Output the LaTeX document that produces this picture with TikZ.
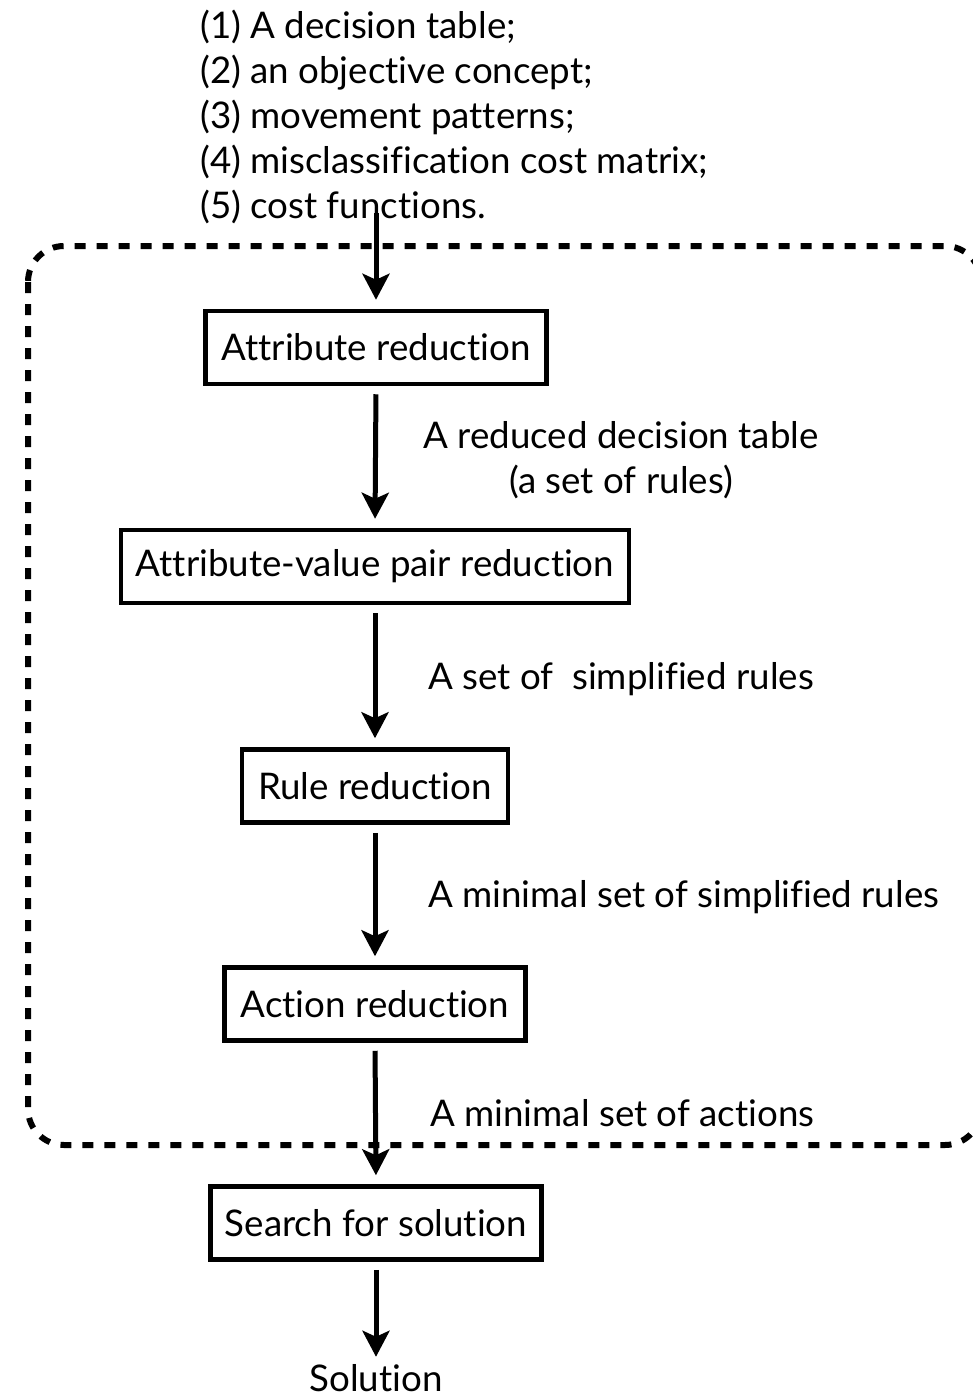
\documentclass[tikz,border=0pt]{standalone}
\usepackage{fontspec}
\setmainfont[Ligatures=NoCommon, RawFeature={-liga;-dlig}]{Lato}
\usetikzlibrary{arrows.meta}
\tikzset{
  stagebox/.style={draw, line width=4.5pt, minimum height=73pt, inner sep=0pt,
    font=\fontsize{36.7}{44}\selectfont},
  flow/.style={line width=5pt, -{Stealth[length=26pt,width=27pt,inset=6pt]},
    shorten <=8pt, shorten >=9pt},
  txt/.style={inner sep=0pt, font=\fontsize{36.7}{45}\selectfont},
  scopebox/.style={line width=6pt, dash pattern=on 11pt off 11pt, rounded corners=36pt}
}
\begin{document}
\begin{tikzpicture}[x=1pt,y=-1pt]
\useasboundingbox (0,0) rectangle (973,1398);

% inputs of the procedure
\node[txt, anchor=base west] (in1) at (200,38) {(1) A decision table;};
\node[txt, anchor=base west] (in2) at (200,83) {(2) an objective concept;};
\node[txt, anchor=base west] (in3) at (200,128) {(3) movement patterns;};
\node[txt, anchor=base west] (in4) at (200,173) {(4) misclassification cost matrix;};
\node[txt, anchor=base west] (in5) at (200,218) {(5) cost functions.};
\coordinate (start) at (376,213);

% dashed frame around the reduction stages
\begin{scope}
  \clip (0,0) rectangle (973,1398);
  \draw[scopebox] (28,246) rectangle (981,1145);
\end{scope}

% stages
\node[stagebox, minimum width=341pt] (ar)  at (376,347.5) {Attribute reduction};
\node[stagebox, minimum width=508pt] (avr) at (375,566.5) {Attribute-value pair reduction};
\node[stagebox, minimum width=266pt] (rr)  at (375,786) {Rule reduction};
\node[stagebox, minimum width=301pt] (acr) at (375,1004) {Action reduction};
\node[stagebox, minimum width=331pt] (sfs) at (376,1223) {Search for solution};
\node[txt, anchor=base] (sol) at (376,1391) {Solution};

% intermediate results
\node[txt, align=center, anchor=base] (l1) at (621,493) {A reduced decision table\\(a set of rules)};
\node[txt, anchor=base west] (l2) at (428,689) {A set of \ simplified rules};
\node[txt, anchor=base west] (l3) at (428,907) {A minimal set of simplified rules};
\node[txt, anchor=base west] (l4) at (430,1126) {A minimal set of actions};

% connectors
\draw[flow, shorten <=0pt] (start) -- (ar.north);
\draw[flow] (ar.south) -- (avr.north);
\draw[flow] (avr.south) -- (rr.north);
\draw[flow] (rr.south) -- (acr.north);
\draw[flow] (acr.south) -- (sfs.north);
\draw[flow, shorten >=7pt] (sfs.south) -- (sol.north);
\end{tikzpicture}
\end{document}
